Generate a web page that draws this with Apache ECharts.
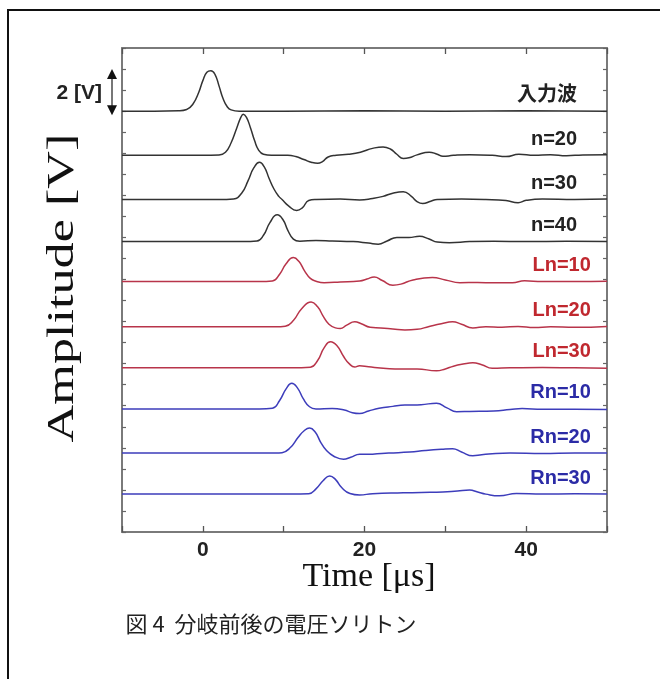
<!DOCTYPE html>
<html>
<head>
<meta charset="utf-8">
<script src="https://cdn.jsdelivr.net/npm/echarts@6/dist/echarts.min.js"></script>
<style>html,body{margin:0;padding:0;background:#fff;}#c{width:660px;height:679px;}</style>
</head>
<body>
<div id="c"></div>
<script>
// ---- data ----
const seriesNames = ['入力波','n=20','n=30','n=40','Ln=10','Ln=20','Ln=30','Rn=10','Rn=20','Rn=30'];
const groups = ['k','k','k','k','r','r','r','b','b','b'];
const baselines = [20.0, 17.9, 15.8, 13.8, 11.9, 9.75, 7.8, 5.85, 3.75, 1.8]; // V offsets
const xTickLabels = ['0','20','40'];

const wave_in = [[-10,0],[-6,0],[-3,0.02],[-2,0.08],[-1.2,0.35],[-0.5,0.9],[0,1.45],[0.5,1.85],[1.0,1.92],[1.5,1.75],[2.0,1.2],[2.5,0.6],[3.0,0.22],[3.5,0.06],[4.5,0],[10,0],[20,0.02],[30,0],[40,0.02],[50,0]];
const wave_n20 = [[-10,0],[0,0],[2,0.02],[2.8,0.15],[3.5,0.6],[4.2,1.3],[4.7,1.8],[5.0,1.95],[5.4,1.8],[5.9,1.3],[6.4,0.7],[6.9,0.25],[7.5,0.05],[8.5,0],[10.5,0],[11.5,-0.06],[12.5,-0.2],[13.5,-0.34],[14.2,-0.38],[14.8,-0.3],[15.5,-0.08],[16.5,0],[18,0.05],[19.5,0.15],[21,0.33],[22.3,0.40],[23.2,0.3],[24,0.05],[24.8,-0.15],[25.5,-0.12],[26.5,0.02],[28,0.15],[29,0.05],[29.7,-0.05],[31,0],[33,0.03],[35.8,0],[37.5,-0.06],[39.1,0.05],[41,0.0],[43,0.03],[45,-0.02],[47,0.02],[50,0.03]];
const wave_n30 = [[-10,0],[2,0],[3.8,0.03],[4.8,0.3],[5.6,0.9],[6.3,1.5],[7.0,1.77],[7.6,1.55],[8.2,1.0],[8.8,0.5],[9.4,0.15],[9.8,0],[10.6,-0.3],[11.6,-0.52],[12.3,-0.4],[13.1,-0.05],[14,0],[17,0.02],[19.4,-0.02],[21,0.05],[22.3,0.15],[23.5,0.3],[24.8,0.37],[25.8,0.15],[26.5,-0.1],[27.2,-0.19],[28.2,-0.08],[29,0],[32,0.02],[35,0],[37.5,-0.05],[39,-0.15],[40,-0.04],[42,0.02],[46,0],[50,0.02]];
const wave_n40 = [[-10,0],[5,0],[6.7,0.03],[7.5,0.3],[8.3,0.9],[9.2,1.27],[9.9,1.05],[10.5,0.55],[11.2,0.12],[12,0.02],[14,0.05],[16,0.03],[18.6,0],[20.5,-0.07],[21.7,-0.12],[22.8,0.03],[24,0.2],[25.5,0.2],[26.8,0.25],[28,0.12],[29,-0.02],[30.5,-0.05],[33,0],[36,0.02],[40,0],[45,0.02],[50,0]];
const wave_ln10 = [[-10,0],[7,0],[8.6,0.03],[9.5,0.35],[10.3,0.85],[11.2,1.14],[11.9,0.95],[12.6,0.5],[13.3,0.15],[14,0.02],[15,-0.05],[17,-0.02],[19.4,0.03],[20.3,0.12],[21.2,0.22],[22.2,0.05],[23.5,-0.17],[24.5,-0.12],[26,0.08],[28.4,0.19],[30,0.08],[31.8,-0.05],[34,-0.04],[36,-0.06],[38.3,-0.05],[39.8,0.04],[42,0.0],[46,0],[50,0.02]];
const wave_ln20 = [[-10,0],[9,0],[10.2,0.03],[11.2,0.3],[12.2,0.85],[13.4,1.18],[14.2,0.95],[14.9,0.5],[15.6,0.12],[16.4,-0.05],[17,-0.08],[17.8,0.08],[18.8,0.24],[19.6,0.15],[20.7,-0.02],[22,-0.05],[23.5,-0.1],[25,-0.15],[26.5,-0.12],[28,0.02],[29.5,0.15],[30.9,0.24],[32,0.12],[33.4,-0.05],[35,0],[37,-0.02],[39,0.02],[41,-0.03],[43,0],[46,-0.02],[50,0.02]];
const wave_ln30 = [[-10,0],[11,0],[13.3,0.03],[14.2,0.35],[15,0.95],[15.8,1.24],[16.6,1.05],[17.4,0.55],[18.1,0.2],[18.8,0.04],[19.4,0.1],[20.5,0.05],[22.7,-0.03],[24.5,-0.06],[26.5,-0.05],[28.9,-0.14],[30,-0.05],[31,0.08],[32.2,0.18],[33.4,0.24],[34.5,0.15],[35.8,-0.02],[38,0],[42,0.02],[46,0],[50,-0.02]];
const wave_rn10 = [[-10,0],[7,0],[8.6,0.03],[9.5,0.4],[10.3,0.95],[11.0,1.22],[11.7,1.0],[12.4,0.5],[13.2,0.1],[14,0],[16,0.02],[17.5,-0.05],[18.5,-0.18],[19.4,-0.22],[20.5,-0.1],[21.8,0.03],[23.5,0.12],[25,0.18],[27,0.2],[28.9,0.27],[30.2,0.05],[31.4,-0.13],[33,-0.12],[36,-0.1],[38,-0.03],[39.5,0.02],[42,-0.02],[46,-0.02],[50,-0.03]];
const wave_rn20 = [[-10,0],[9,0],[9.8,0.02],[10.8,0.25],[11.8,0.75],[12.5,1.05],[13.2,1.19],[13.9,1.0],[14.6,0.5],[15.3,0.12],[16.2,-0.15],[17.4,-0.29],[18.3,-0.2],[19.4,-0.06],[21,-0.05],[23,0.0],[25.6,0.05],[27.5,0.12],[29.5,0.18],[30.9,0.21],[32,0.05],[33.4,-0.13],[34.5,-0.08],[35.8,-0.03],[38,0],[42,-0.02],[46,0],[50,0]];
const wave_rn30 = [[-10,0],[11,0],[13.1,0.02],[14,0.25],[14.9,0.65],[15.7,0.86],[16.4,0.7],[17.2,0.3],[18.2,0.03],[19.4,-0.04],[21,0.02],[24.8,0.06],[27,0.08],[29.7,0.1],[31.5,0.15],[33,0.19],[34,0.1],[35,0],[36.7,-0.08],[38.8,0.03],[42,0],[46,0.02],[50,0]];

const waves = [wave_in, wave_n20, wave_n30, wave_n40, wave_ln10, wave_ln20, wave_ln30, wave_rn10, wave_rn20, wave_rn30];

// ---- styles ----
const lineColor = {k:'#333333', r:'#b8344a', b:'#3d3dbb'};
const labelColor = {k:'#222222', r:'#c0282f', b:'#2b2ba6'};
const labelT = {k:46.3, r:48.0, b:48.0};
const labelDy = 0.76;

const chart = echarts.init(document.getElementById('c'), null, {renderer:'canvas'});

const axisLineStyle = {color:'#7a7a7a', width:2};
const option = {
  backgroundColor:'#ffffff',
  animation:false,
  grid:{left:122, top:48, width:485, height:484, containLabel:false},
  xAxis:[{
    type:'value', min:-10, max:50, interval:10, position:'bottom',
    axisLine:{show:true, onZero:false, lineStyle:axisLineStyle},
    axisTick:{show:true, inside:true, length:6, lineStyle:{color:'#555', width:1.3}},
    splitLine:{show:false},
    axisLabel:{margin:8, color:'#222', fontSize:21, fontWeight:'bold', fontFamily:'"Liberation Sans", Arial, sans-serif',
      formatter:function(v){ const s=String(v); return xTickLabels.indexOf(s)>=0 ? s : ''; }}
  },{
    type:'value', min:-10, max:50, interval:10, position:'top',
    axisLine:{show:true, onZero:false, lineStyle:axisLineStyle},
    axisTick:{show:true, inside:true, length:6, lineStyle:{color:'#555', width:1.3}},
    splitLine:{show:false}, axisLabel:{show:false}
  }],
  yAxis:[{
    type:'value', min:0, max:23, interval:1, position:'left',
    axisLine:{show:true, onZero:false, lineStyle:axisLineStyle},
    axisTick:{show:true, inside:true, length:4, lineStyle:{color:'#666', width:1.2}},
    splitLine:{show:false}, axisLabel:{show:false}
  },{
    type:'value', min:0, max:23, interval:1, position:'right',
    axisLine:{show:true, onZero:false, lineStyle:axisLineStyle},
    axisTick:{show:true, inside:true, length:4, lineStyle:{color:'#666', width:1.2}},
    splitLine:{show:false}, axisLabel:{show:false}
  }],
  series: waves.map(function(w, i){
    const off = baselines[i];
    return {
      name:seriesNames[i], type:'line', xAxisIndex:0, yAxisIndex:0,
      showSymbol:false, smooth:0.5,
      lineStyle:{color:lineColor[groups[i]], width:1.5},
      data: w.map(function(p){ return [p[0], p[1] + off]; })
    };
  })
};
chart.setOption(option);

const graphics = [];
// outer frame
graphics.push({type:'rect', shape:{x:8, y:10, width:800, height:800}, style:{fill:'none', stroke:'#111', lineWidth:2}, silent:true});
// series labels
seriesNames.forEach(function(name, i){
  const g = groups[i];
  const p = chart.convertToPixel({gridIndex:0}, [labelT[g], baselines[i] + labelDy]);
  graphics.push({type:'text', x:p[0], y:p[1], style:{text:name, fill:labelColor[g], fontSize:20, fontWeight:'bold',
    fontFamily:'"Liberation Sans", "Noto Sans CJK JP", Arial, sans-serif', align:'right', verticalAlign:'middle'}});
});
// scale bar "2 [V]"
const sbTop = chart.convertToPixel({gridIndex:0}, [-10, 22.0]);
const sbBot = chart.convertToPixel({gridIndex:0}, [-10, baselines[0] - 0.2]);
const ax = 112;
graphics.push({type:'line', shape:{x1:ax, y1:sbTop[1]+8, x2:ax, y2:sbBot[1]-8}, style:{stroke:'#777', lineWidth:2}});
graphics.push({type:'polygon', shape:{points:[[ax, sbTop[1]],[ax-5, sbTop[1]+10],[ax+5, sbTop[1]+10]]}, style:{fill:'#111'}});
graphics.push({type:'polygon', shape:{points:[[ax, sbBot[1]],[ax-5, sbBot[1]-10],[ax+5, sbBot[1]-10]]}, style:{fill:'#111'}});
graphics.push({type:'text', x:102, y:(sbTop[1]+sbBot[1])/2 + 1, style:{text:'2 [V]', fill:'#222', fontSize:21, fontWeight:'bold',
  fontFamily:'"Liberation Sans", Arial, sans-serif', align:'right', verticalAlign:'middle'}});
// axis titles
graphics.push({type:'text', x:63, y:288, rotation:Math.PI/2, scaleX:1.45, scaleY:1.05,
  style:{text:'Amplitude [V]', fill:'#111', fontSize:36, fontFamily:'"Liberation Serif", "Times New Roman", serif', align:'center', verticalAlign:'middle'}});
graphics.push({type:'text', x:369, y:577,
  style:{text:'Time [μs]', fill:'#111', fontSize:34, fontFamily:'"Liberation Serif", "Times New Roman", serif', align:'center', verticalAlign:'middle'}});
// caption
graphics.push({type:'text', x:271, y:624,
  style:{text:'図 4  分岐前後の電圧ソリトン', fill:'#222', fontSize:22, fontFamily:'"Noto Sans CJK JP", sans-serif', align:'center', verticalAlign:'middle'}});

chart.setOption({graphic:graphics});
</script>
</body>
</html>
